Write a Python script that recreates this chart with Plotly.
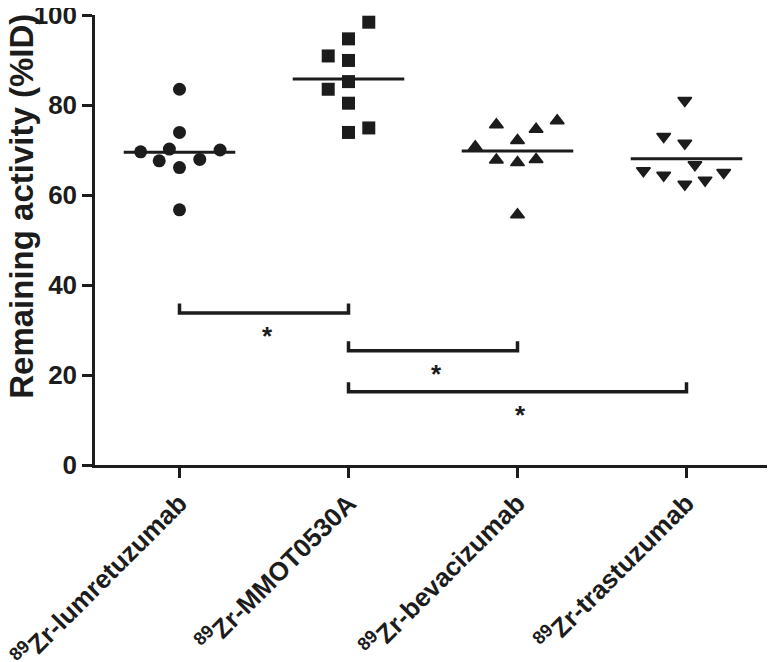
import plotly.graph_objects as go
import numpy as np

# ---- data ----
categories = ["<sup>89</sup>Zr-lumretuzumab", "<sup>89</sup>Zr-MMOT0530A",
              "<sup>89</sup>Zr-bevacizumab", "<sup>89</sup>Zr-trastuzumab"]
lumretuzumab = [83.5, 73.9, 70.2, 69.6, 70.0, 67.6, 67.9, 66.1, 56.7]
mmot0530a = [98.4, 94.7, 90.9, 89.9, 85.2, 83.5, 80.4, 74.9, 73.9]
bevacizumab = [76.5, 75.6, 74.6, 72.1, 70.7, 67.8, 67.2, 67.9, 55.6]
trastuzumab = [81.0, 73.0, 71.5, 66.7, 65.4, 64.4, 65.0, 63.3, 62.4]
y_ticks = [0, 20, 40, 60, 80, 100]
comparisons = [(0, 1), (1, 2), (1, 3)]
comparison_labels = ["*", "*", "*"]
bracket_levels = [33.8, 25.4, 16.3]

# ---- layout helpers (scatter offsets, styles) ----
jitter = [
    [0, 0, -0.06, -0.23, 0.24, -0.12, 0.12, 0, 0],
    [0.12, 0, -0.12, 0, 0, -0.12, 0, 0.12, 0],
    [0.235, -0.125, 0.11, 0, -0.25, -0.125, 0, 0.11, 0],
    [-0.01, -0.135, -0.01, 0.05, -0.255, -0.135, 0.22, 0.11, -0.01],
]
groups = [lumretuzumab, mmot0530a, bevacizumab, trastuzumab]
symbols = ["circle", "square", "triangle-up", "triangle-down"]
sizes = [13, 13, 12, 12]
line_w = [0, 0, 1.5, 1.5]
INK = "#1c1c1c"
FONT = "Liberation Sans, Arial, sans-serif"
HALF = 0.33

fig = go.Figure()
for i, vals in enumerate(groups):
    xs = [i + d for d in jitter[i]]
    fig.add_trace(go.Scatter(
        x=xs, y=vals, mode="markers",
        marker=dict(symbol=symbols[i], size=sizes[i], color=INK,
                    line=dict(width=line_w[i], color=INK)),
        showlegend=False, cliponaxis=False, hoverinfo="y"))
    m = float(np.mean(vals))
    fig.add_trace(go.Scatter(
        x=[i - HALF, i + HALF], y=[m, m], mode="lines",
        line=dict(color=INK, width=3), showlegend=False, hoverinfo="skip"))

for (a, b), lvl, lab in zip(comparisons, bracket_levels, comparison_labels):
    fig.add_trace(go.Scatter(
        x=[a, a, b, b], y=[lvl + 2.1, lvl, lvl, lvl + 2.1], mode="lines",
        line=dict(color=INK, width=3.5), showlegend=False, hoverinfo="skip"))
    fig.add_annotation(x=(a + b) / 2 + 0.02, y=lvl - 5.2, text=lab, showarrow=False,
                       font=dict(family=FONT, size=26, color=INK, weight="bold"),
                       xanchor="center", yanchor="middle")

fig.add_annotation(xref="paper", yref="paper", x=-0.108, y=0.576,
                   text="Remaining activity (%ID)", textangle=-90, showarrow=False,
                   font=dict(family=FONT, size=33, color=INK, weight="bold"),
                   xanchor="center", yanchor="middle")

axis_common = dict(showline=True, linewidth=2.5, linecolor=INK, ticks="outside",
                   ticklen=10, tickwidth=2.5, tickcolor=INK, showgrid=False,
                   zeroline=False, automargin=False, ticklabeloverflow="allow")
fig.update_layout(
    width=775, height=662,
    margin=dict(l=87, r=12, t=7, b=205),
    paper_bgcolor="white", plot_bgcolor="white",
    xaxis=dict(range=[-0.5, 3.5], tickvals=[0, 1, 2, 3], ticktext=categories,
               tickangle=-45,
               tickfont=dict(family=FONT, size=26, color=INK, weight="bold"),
               **axis_common),
    yaxis=dict(range=[0, 100], tickvals=y_ticks,
               tickfont=dict(family=FONT, size=26, color=INK, weight="bold"),
               **axis_common),
)

fig.write_html("out.html")
